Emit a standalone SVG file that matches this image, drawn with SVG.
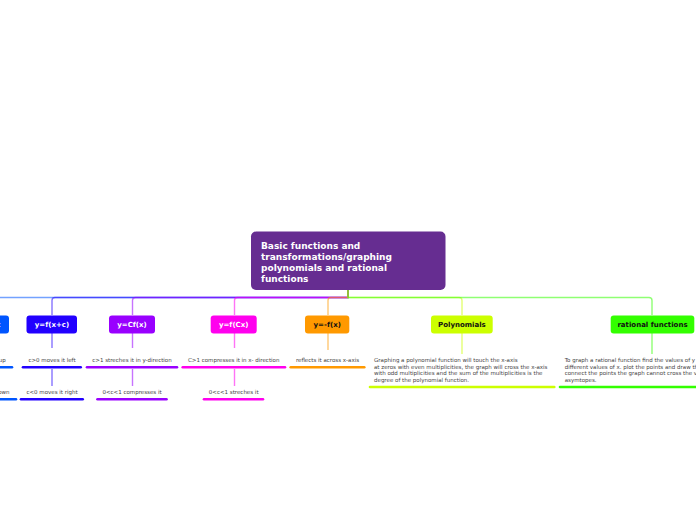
<svg xmlns="http://www.w3.org/2000/svg" width="696" height="520" viewBox="0 0 696 520">
<style>
.bg{fill:#ffffff}
.conn{fill:none;stroke-width:1.4;stroke-opacity:0.55}
.box{stroke:none}
.root-t{font-family:"DejaVu Sans",Verdana,sans-serif;font-weight:bold;font-size:9px;fill:#ffffff}
.nt{font-family:"DejaVu Sans",Verdana,sans-serif;font-weight:bold;font-size:7px;text-anchor:middle}
.w{fill:#ffffff}
.k{fill:#111111}
.st{font-family:"DejaVu Sans",Verdana,sans-serif;font-size:5.5px;fill:#444444;text-anchor:middle}
.pt{font-family:"DejaVu Sans",Verdana,sans-serif;font-size:5.5px;fill:#444444}
.ul{fill:none;stroke-width:2.6;stroke-linecap:round}
</style>
<rect class="bg" x="0" y="0" width="696" height="520"/>
<g id="connectors">
  <path class="conn" stroke="#0055ff" d="M348,290 V297.5 H-14 Q-17,297.5 -17,300.5 V315"/>
  <path class="conn" stroke="#2200ff" d="M348,290 V297.5 H55 Q52,297.5 52,300.5 V315"/>
  <path class="conn" stroke="#9900ff" d="M348,290 V297.5 H135.5 Q132.5,297.5 132.5,300.5 V315"/>
  <path class="conn" stroke="#ff00ee" d="M348,290 V297.5 H237.5 Q234.5,297.5 234.5,300.5 V315"/>
  <path class="conn" stroke="#ff9900" d="M348,290 V297.5 H331 Q328,297.5 328,300.5 V315"/>
  <path class="conn" stroke="#ccff00" d="M348,290 V297.5 H459 Q462,297.5 462,300.5 V315"/>
  <path class="conn" stroke="#33ff00" d="M348,290 V297.5 H649 Q652,297.5 652,300.5 V315"/>
  <path class="conn" stroke="#2200ff" d="M52,333 V348 M52,369 V386"/>
  <path class="conn" stroke="#9900ff" d="M132.5,333 V348 M132.5,369 V386"/>
  <path class="conn" stroke="#ff00ee" d="M234.5,333 V348 M234.5,369 V386"/>
  <path class="conn" stroke="#ff9900" d="M328,333 V350"/>
  <path class="conn" stroke="#ccff00" d="M462,333 V354"/>
  <path class="conn" stroke="#33ff00" d="M652,333 V354"/>
</g>
<g id="root">
  <rect class="box" x="251" y="231.5" width="194.5" height="58.5" rx="5" fill="#662d91"/>
  <text class="root-t" x="261" y="248.5">Basic functions and</text>
  <text class="root-t" x="261" y="259.5">transformations/graphing</text>
  <text class="root-t" x="261" y="270.5">polynomials and rational</text>
  <text class="root-t" x="261" y="281.5">functions</text>
</g>
<g id="node-vshift">
  <rect class="box" x="-42" y="315.5" width="51" height="18" rx="3" fill="#0055ff"/>
  <text class="nt w" x="-16.5" y="326.5">y=f(x)+c</text>
  <text class="st" x="-17" y="362">c&gt;0 moves it up</text>
  <line class="ul" stroke="#0055ff" x1="-46" y1="367.3" x2="12" y2="367.3"/>
  <text class="st" x="-17" y="394">c&lt;0 moves it down</text>
  <line class="ul" stroke="#0055ff" x1="-50" y1="399.3" x2="16" y2="399.3"/>
</g>
<g id="node-hshift">
  <rect class="box" x="26.5" y="315.5" width="50.5" height="18" rx="3" fill="#2200ff"/>
  <text class="nt w" x="52" y="326.5">y=f(x+c)</text>
  <text class="st" x="52" y="362">c&gt;0 moves it left</text>
  <line class="ul" stroke="#2200ff" x1="23" y1="367.3" x2="80.7" y2="367.3"/>
  <text class="st" x="52" y="394">c&lt;0 moves it right</text>
  <line class="ul" stroke="#2200ff" x1="21" y1="399.3" x2="82.7" y2="399.3"/>
</g>
<g id="node-vstretch">
  <rect class="box" x="109" y="315.5" width="46" height="18" rx="3" fill="#9900ff"/>
  <text class="nt w" x="132" y="326.5">y=Cf(x)</text>
  <text class="st" x="132" y="362">c&gt;1 streches it in y-direction</text>
  <line class="ul" stroke="#9900ff" x1="87" y1="367.3" x2="177" y2="367.3"/>
  <text class="st" x="132" y="394">0&lt;c&lt;1 compresses it</text>
  <line class="ul" stroke="#9900ff" x1="97.5" y1="399.3" x2="166.5" y2="399.3"/>
</g>
<g id="node-hstretch">
  <rect class="box" x="210.7" y="315.5" width="46" height="18" rx="3" fill="#ff00ee"/>
  <text class="nt w" x="233.7" y="326.5">y=f(Cx)</text>
  <text class="st" x="233.7" y="362">C&gt;1 compresses it in x- direction</text>
  <line class="ul" stroke="#ff00ee" x1="182.7" y1="367.3" x2="285" y2="367.3"/>
  <text class="st" x="233.7" y="394">0&lt;c&lt;1 streches it</text>
  <line class="ul" stroke="#ff00ee" x1="204" y1="399.3" x2="263" y2="399.3"/>
</g>
<g id="node-reflect">
  <rect class="box" x="305" y="315.5" width="44.3" height="18" rx="3" fill="#ff9900"/>
  <text class="nt k" x="327.2" y="326.5">y=-f(x)</text>
  <text class="st" x="327.5" y="362">reflects it across x-axis</text>
  <line class="ul" stroke="#ff9900" x1="290.7" y1="367.3" x2="364.3" y2="367.3"/>
</g>
<g id="node-polynomials">
  <rect class="box" x="431" y="315.5" width="61.7" height="18" rx="3" fill="#ccff00"/>
  <text class="nt k" x="461.9" y="326.5">Polynomials</text>
  <text class="pt" x="374" y="362">Graphing a polynomial function will touch the x-axis</text>
  <text class="pt" x="374" y="368.7">at zeros with even multiplicities, the graph will cross the x-axis</text>
  <text class="pt" x="374" y="375.3">with odd multiplicities and the sum of the multiplicities is the</text>
  <text class="pt" x="374" y="382">degree of the polynomial function.</text>
  <line class="ul" stroke="#ccff00" x1="370" y1="387" x2="554.3" y2="387"/>
</g>
<g id="node-rational">
  <rect class="box" x="610.7" y="315.5" width="83.6" height="18" rx="3" fill="#33ff00"/>
  <text class="nt k" x="652.5" y="326.5">rational functions</text>
  <text class="pt" x="564.7" y="362">To graph a rational function find the values of y for</text>
  <text class="pt" x="564.7" y="368.7">different values of x. plot the points and draw the line to</text>
  <text class="pt" x="564.7" y="375.3">connect the points the graph cannot cross the vertical</text>
  <text class="pt" x="564.7" y="382">asymtopes.</text>
  <line class="ul" stroke="#33ff00" x1="560" y1="387" x2="760" y2="387"/>
</g>
</svg>
